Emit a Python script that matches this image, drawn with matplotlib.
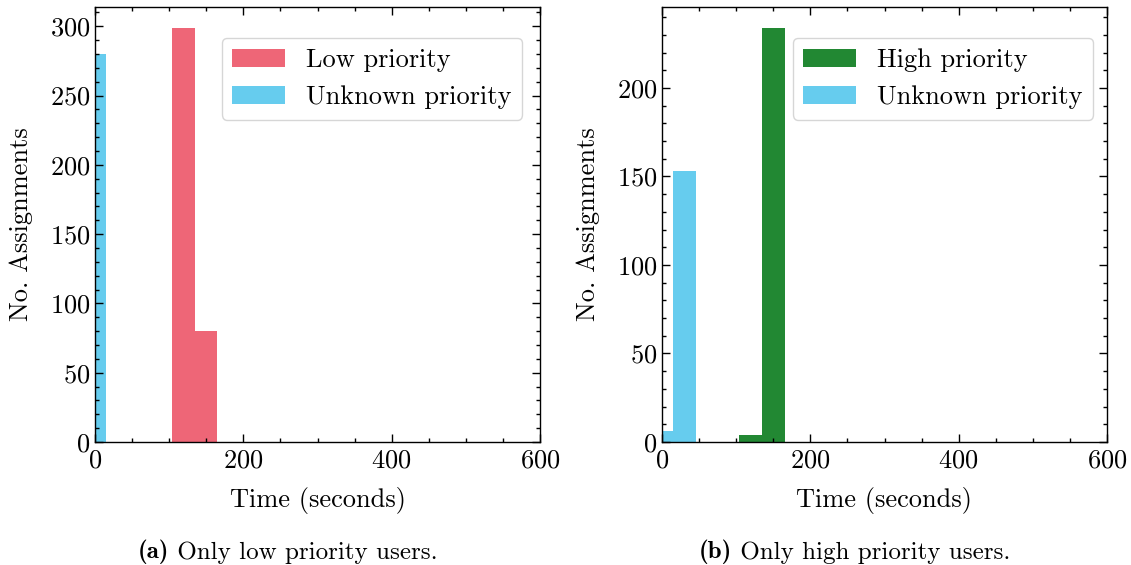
import matplotlib
matplotlib.use('Agg')
import matplotlib.pyplot as plt
from matplotlib.ticker import MultipleLocator

plt.rcParams['font.family'] = 'serif'
plt.rcParams['font.serif'] = ['cmr10']
plt.rcParams['mathtext.fontset'] = 'cm'
plt.rcParams['axes.formatter.use_mathtext'] = True
plt.rcParams['axes.unicode_minus'] = False
plt.rcParams['font.size'] = 19

RED = '#EE6677'
CYAN = '#66CCEE'
GREEN = '#228833'

# (a) only low priority users
low_edges = [104, 135, 165]
low_counts = [299, 80]
unk_a_edges = [-15.5, 15.5]
unk_a_counts = [280]

# (b) only high priority users
high_edges = [104, 135, 166]
high_counts = [4, 234]
unk_b_edges = [-15.5, 15.5, 46.5]
unk_b_counts = [6, 153]

fig = plt.figure(figsize=(11.31, 5.65), dpi=100)
ax1 = fig.add_axes([95/1131, 123/565, 445/1131, 435/565])
ax2 = fig.add_axes([662/1131, 123/565, 445/1131, 435/565])


def style(ax):
    ax.set_xlim(0, 600)
    ax.xaxis.set_major_locator(MultipleLocator(200))
    ax.xaxis.set_minor_locator(MultipleLocator(50))
    ax.yaxis.set_major_locator(MultipleLocator(50))
    ax.yaxis.set_minor_locator(MultipleLocator(10))
    ax.tick_params(which='both', direction='in', top=True, right=True, width=1.0)
    ax.tick_params(which='major', length=6)
    ax.tick_params(which='minor', length=3)
    ax.tick_params(axis='x', pad=5)
    for s in ax.spines.values():
        s.set_linewidth(1.0)
    ax.set_xlabel('Time (seconds)', labelpad=10)
    ax.set_ylabel('No. Assignments', labelpad=12)


def caption(x, tag, rest):
    # bold tag, then the plain text right after it
    t = fig.text(x, 1 - 552/565, tag, ha='left', va='center', fontsize=18, family='cmb10')
    fig.add_artist(matplotlib.text.Annotation(' ' + rest, xy=(1, 0), xycoords=t,
                                              va='bottom', ha='left', fontsize=18))


ax1.hist(low_edges[:-1], bins=low_edges, weights=low_counts, color=RED, label='Low priority')
ax1.hist(unk_a_edges[:-1], bins=unk_a_edges, weights=unk_a_counts, color=CYAN, label='Unknown priority')
style(ax1)
ax1.set_ylim(0, 299 * 1.05)
ax1.legend(loc='upper right', bbox_to_anchor=(0.960, 0.929), borderaxespad=0)

ax2.hist(high_edges[:-1], bins=high_edges, weights=high_counts, color=GREEN, label='High priority')
ax2.hist(unk_b_edges[:-1], bins=unk_b_edges, weights=unk_b_counts, color=CYAN, label='Unknown priority')
style(ax2)
ax2.set_ylim(0, 234 * 1.05)
ax2.legend(loc='upper right', bbox_to_anchor=(0.969, 0.929), borderaxespad=0)

caption(138/1131, '(a)', 'Only low priority users.')
caption(699/1131, '(b)', 'Only high priority users.')

fig.savefig('out.png', dpi=100)
